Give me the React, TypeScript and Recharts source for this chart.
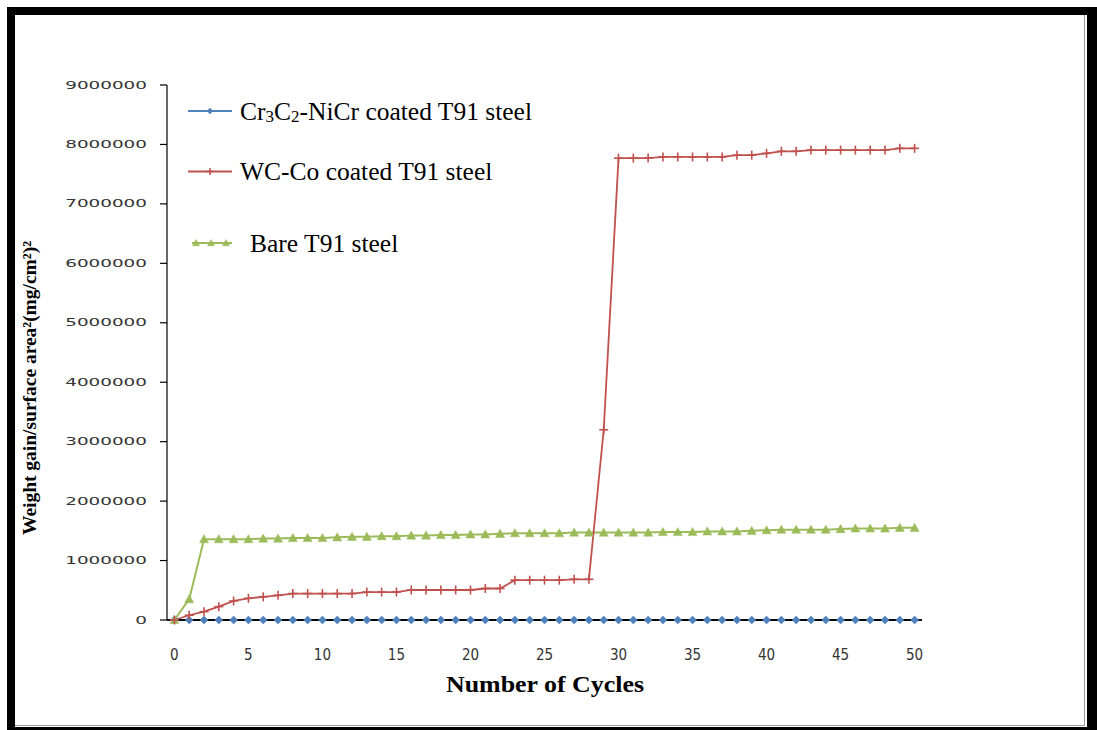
import React from "react";
import { LineChart, Line, XAxis, YAxis, Legend, ReferenceLine } from "recharts";

// Number of cycles (x categories)
const cycles = [
  0, 1, 2, 3, 4, 5, 6, 7, 8, 9, 10, 11, 12, 13, 14, 15, 16, 17, 18, 19, 20,
  21, 22, 23, 24, 25, 26, 27, 28, 29, 30, 31, 32, 33, 34, 35, 36, 37, 38, 39,
  40, 41, 42, 43, 44, 45, 46, 47, 48, 49, 50,
];

// Cr3C2-NiCr coated T91 steel
const cr3c2 = [
  0, 0, 0, 0, 0, 0, 0, 0, 0, 0, 0, 0, 0, 0, 0, 0, 0, 0, 0, 0, 0,
  0, 0, 0, 0, 0, 0, 0, 0, 0, 0, 0, 0, 0, 0, 0, 0, 0, 0, 0,
  0, 0, 0, 0, 0, 0, 0, 0, 0, 0, 0,
];

// WC-Co coated T91 steel
const wcco = [
  0, 80000, 140000, 225000, 320000, 365000, 390000, 415000, 445000, 445000,
  445000, 445000, 445000, 470000, 470000, 470000, 505000, 505000, 505000, 505000,
  505000, 530000, 530000, 670000, 670000, 670000, 670000, 685000, 685000, 3200000,
  7770000, 7770000, 7770000, 7790000, 7790000, 7790000, 7790000, 7790000, 7820000, 7820000,
  7850000, 7885000, 7885000, 7905000, 7905000, 7905000, 7905000, 7905000, 7905000, 7935000,
  7935000,
];

// Bare T91 steel
const bare = [
  0, 350000, 1360000, 1360000, 1360000, 1360000, 1370000, 1370000, 1380000, 1380000,
  1380000, 1390000, 1400000, 1400000, 1410000, 1410000, 1420000, 1420000, 1430000, 1430000,
  1440000, 1440000, 1450000, 1460000, 1460000, 1460000, 1460000, 1470000, 1470000, 1470000,
  1470000, 1470000, 1470000, 1480000, 1480000, 1480000, 1490000, 1490000, 1490000, 1500000,
  1510000, 1520000, 1520000, 1520000, 1520000, 1530000, 1540000, 1540000, 1540000, 1550000,
  1550000,
];

const yTicks = [0, 1000000, 2000000, 3000000, 4000000, 5000000, 6000000, 7000000, 8000000, 9000000];
const xTicks = [0, 5, 10, 15, 20, 25, 30, 35, 40, 45, 50];

const BLUE = "#4F81BD";
const RED = "#C0504D";
const GREEN = "#9BBB59";
const SERIF = "'Liberation Serif', 'Times New Roman', serif";

const data = cycles.map((c, i) => ({
  cycle: c,
  cr3c2: cr3c2[i],
  wcco: wcco[i],
  bare: bare[i],
}));

function Diamond({ cx, cy, r = 4 }: any) {
  return (
    <path
      d={`M${cx},${cy - r} L${cx + r},${cy} L${cx},${cy + r} L${cx - r},${cy} Z`}
      fill={BLUE}
      stroke={BLUE}
      strokeWidth={0.5}
    />
  );
}

function Plus({ cx, cy, r = 4.5 }: any) {
  return (
    <g stroke={RED} strokeWidth={1.6}>
      <line x1={cx} y1={cy - r} x2={cx} y2={cy + r} />
      <line x1={cx - r} y1={cy} x2={cx + r} y2={cy} />
    </g>
  );
}

function Tri({ cx, cy, r = 4.5 }: any) {
  return (
    <path
      d={`M${cx},${cy - r} L${cx + r},${cy + r * 0.8} L${cx - r},${cy + r * 0.8} Z`}
      fill={GREEN}
      stroke={GREEN}
      strokeWidth={0.5}
    />
  );
}

function YTick({ x, y, payload }: any) {
  return (
    <text
      transform={`translate(${x},${y}) scale(1.75,1)`}
      textAnchor="end"
      dominantBaseline="central"
      fontFamily="'DejaVu Sans', Verdana, sans-serif"
      fontSize={10.5}
      fill="#333"
    >
      {payload.value}
    </text>
  );
}

function XTick({ x, y, payload }: any) {
  return (
    <text
      x={x}
      y={y}
      textAnchor="middle"
      dominantBaseline="central"
      fontFamily="'Liberation Sans Narrow', 'DejaVu Sans Condensed', 'Liberation Sans', sans-serif"
      fontSize={15}
      fill="#333"
    >
      {payload.value}
    </text>
  );
}

function YTitle() {
  return (
    <text
      transform="translate(29,388) rotate(-90)"
      textAnchor="middle"
      dominantBaseline="central"
      fontFamily={SERIF}
      fontWeight="bold"
      fontSize={19}
      textLength={294}
      lengthAdjust="spacingAndGlyphs"
      fill="#000"
    >
      Weight gain/surface area²(mg/cm²)²
    </text>
  );
}

function XTitle() {
  return (
    <text
      x={545}
      y={684}
      textAnchor="middle"
      dominantBaseline="central"
      fontFamily={SERIF}
      fontWeight="bold"
      fontSize={23}
      textLength={198}
      lengthAdjust="spacingAndGlyphs"
      fill="#000"
    >
      Number of Cycles
    </text>
  );
}

function LegendBox() {
  return (
    <svg width={420} height={170} style={{ display: "block" }}>
      <line x1={2} y1={15} x2={46} y2={15} stroke={BLUE} strokeWidth={2} />
      <Diamond cx={24} cy={15} r={3} />
      <text x={54} y={15} dominantBaseline="central" fontFamily={SERIF} fontSize={25.5} fill="#000">
        Cr
        <tspan fontSize={17} dy={5}>3</tspan>
        <tspan dy={-5}>C</tspan>
        <tspan fontSize={17} dy={5}>2</tspan>
        <tspan dy={-5}>-NiCr coated T91 steel</tspan>
      </text>

      <line x1={2} y1={75.5} x2={46} y2={75.5} stroke={RED} strokeWidth={2} />
      <Plus cx={24} cy={75.5} r={3.5} />
      <text x={54} y={75.5} dominantBaseline="central" fontFamily={SERIF} fontSize={25.5} fill="#000">
        WC-Co coated T91 steel
      </text>

      <line x1={6} y1={147} x2={46} y2={147} stroke={GREEN} strokeWidth={2} />
      <Tri cx={10} cy={147} r={3.5} />
      <Tri cx={25} cy={147} r={3.5} />
      <Tri cx={40} cy={147} r={3.5} />
      <text x={64} y={147} dominantBaseline="central" fontFamily={SERIF} fontSize={25.5} fill="#000">
        Bare T91 steel
      </text>
    </svg>
  );
}

export default function App() {
  return (
    <div style={{ position: "relative", width: 1097, height: 730, background: "#fff" }}>
      <style>{"body{margin:0}"}</style>

      {/* picture frame */}
      <div
        style={{
          position: "absolute",
          left: 7,
          top: 7,
          width: 1090,
          height: 723,
          boxSizing: "border-box",
          borderStyle: "solid",
          borderColor: "#000",
          borderWidth: "8px 10px 3px 8px",
        }}
      />
      <div
        style={{
          position: "absolute",
          left: 15,
          top: 15,
          width: 1070,
          height: 711,
          boxSizing: "border-box",
          borderRight: "1px solid #999",
          borderBottom: "1px solid #999",
        }}
      />

      <div style={{ position: "absolute", left: 0, top: 0 }}>
        <LineChart
          width={1097}
          height={730}
          data={data}
          margin={{ top: 85, right: 175, bottom: 70, left: 67 }}
        >
          <YAxis
            type="number"
            domain={[0, 9000000]}
            ticks={yTicks}
            interval={0}
            width={100}
            tickSize={7}
            tickMargin={13}
            axisLine={{ stroke: "#000", strokeWidth: 1.2 }}
            tickLine={{ stroke: "#000", strokeWidth: 1.2 }}
            tick={<YTick />}
            label={{ content: () => <YTitle /> }}
          />
          <XAxis
            dataKey="cycle"
            type="number"
            domain={[-0.5, 50.5]}
            ticks={xTicks}
            interval={0}
            height={40}
            tickSize={0}
            tickMargin={35}
            tickLine={false}
            axisLine={{ stroke: "#000", strokeWidth: 1.5 }}
            tick={<XTick />}
            label={{ content: () => <XTitle /> }}
          />
          <Legend
            layout="vertical"
            align="center"
            verticalAlign="middle"
            wrapperStyle={{ left: 186, top: 96, width: 420 }}
            content={() => <LegendBox />}
          />
          <Line
            dataKey="cr3c2"
            stroke={BLUE}
            strokeWidth={2}
            isAnimationActive={false}
            dot={(p: any) => <Diamond key={`b${p.index}`} cx={p.cx} cy={p.cy} />}
          />
          <ReferenceLine y={0} stroke="#000" strokeWidth={1.5} ifOverflow="visible" />
          <Line
            dataKey="bare"
            stroke={GREEN}
            strokeWidth={2}
            isAnimationActive={false}
            dot={(p: any) => <Tri key={`g${p.index}`} cx={p.cx} cy={p.cy} />}
          />
          <Line
            dataKey="wcco"
            stroke={RED}
            strokeWidth={1.8}
            isAnimationActive={false}
            dot={(p: any) => <Plus key={`r${p.index}`} cx={p.cx} cy={p.cy} />}
          />
        </LineChart>
      </div>
    </div>
  );
}
